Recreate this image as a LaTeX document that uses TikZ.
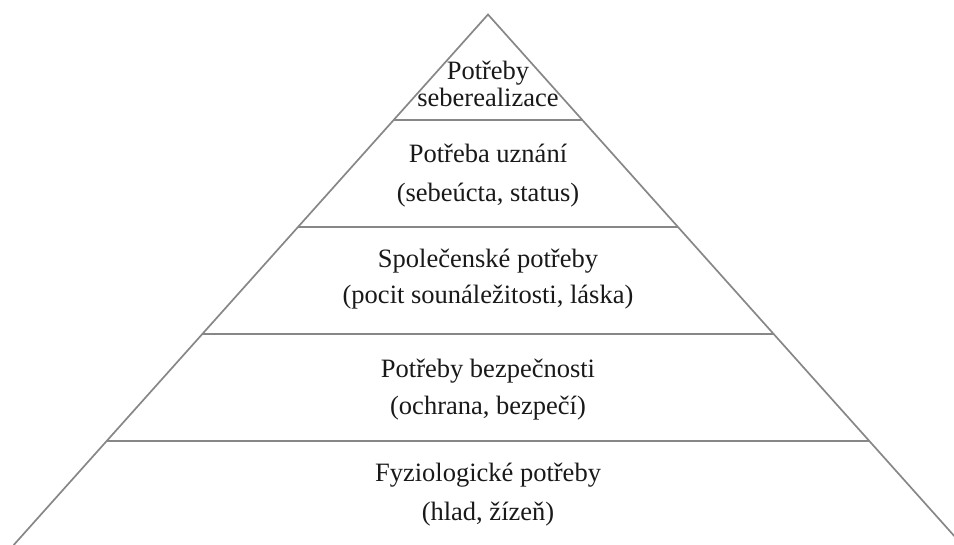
\documentclass[tikz,border=0pt]{standalone}
\usepackage{fontspec}
\setmainfont{Liberation Serif}
\usetikzlibrary{calc}
\definecolor{edgegray}{RGB}{135,135,135}
\definecolor{txt}{RGB}{25,25,25}
\tikzset{
  edge/.style={draw=edgegray, line width=1.7pt},
  lvl/.style={draw=edgegray, line width=2pt},
  lab/.style={anchor=base, inner sep=0pt, text=txt, font=\fontsize{26.5}{30}\selectfont}
}
\begin{document}
\begin{tikzpicture}[x=1pt, y=-1pt]
\useasboundingbox (0,0) rectangle (954,545);
\clip (0,0) rectangle (954,545);
\coordinate (A) at (488,14.5);
\coordinate (BL) at (13.7,545);
\coordinate (BR) at (962.3,545);
\draw[edge] (BL) -- (A) -- (BR);
% level lines
\foreach \n/\y in {1/120,2/227,3/334,4/441}{
  \coordinate (L\n) at ($(A)!{(\y-14.5)/530.5}!(BL)$);
  \coordinate (R\n) at ($(A)!{(\y-14.5)/530.5}!(BR)$);
  \draw[lvl] (L\n) -- (R\n);
}
% labels
\node[lab] (t1a) at (488,80) {Potřeby};
\node[lab] (t1b) at (488,107) {seberealizace};
\node[lab] (t2a) at (488,163) {Potřeba uznání};
\node[lab] (t2b) at (488,202) {(sebeúcta, status)};
\node[lab] (t3a) at (488,268) {Společenské potřeby};
\node[lab] (t3b) at (488,304) {(pocit sounáležitosti, láska)};
\node[lab] (t4a) at (488,378) {Potřeby bezpečnosti};
\node[lab] (t4b) at (488,415) {(ochrana, bezpečí)};
\node[lab] (t5a) at (488,482) {Fyziologické potřeby};
\node[lab] (t5b) at (488,520) {(hlad, žízeň)};
\end{tikzpicture}
\end{document}
